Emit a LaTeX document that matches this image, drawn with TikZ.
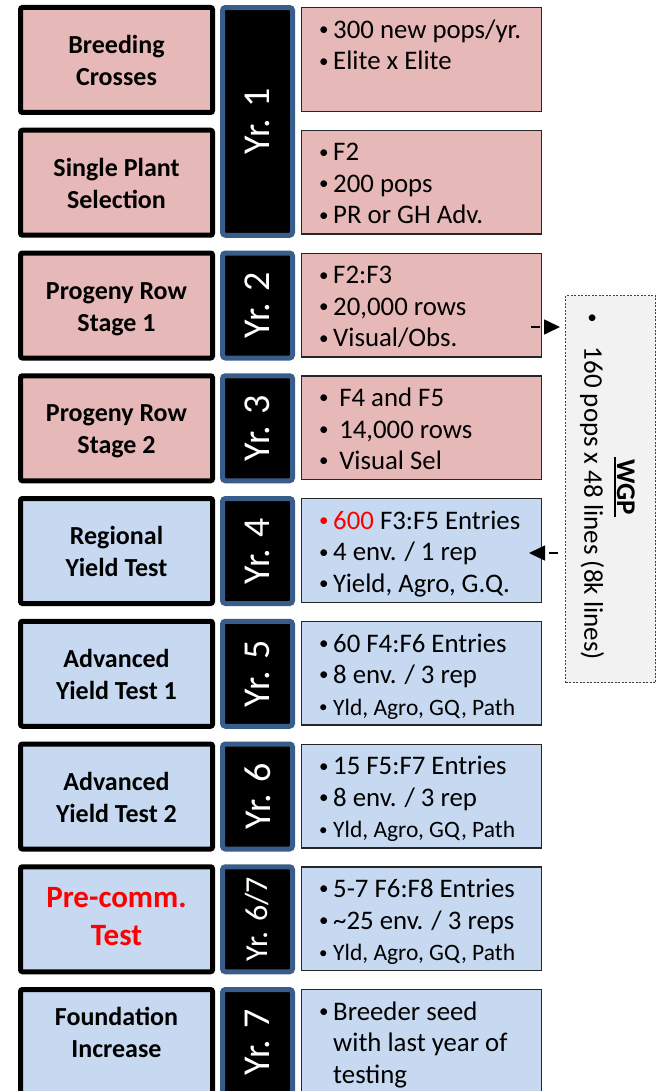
\documentclass[tikz,border=0pt]{standalone}
\usepackage{fontspec}
\setmainfont{Carlito}
\usetikzlibrary{arrows.meta}
\definecolor{pinkfill}{RGB}{230,184,183}
\definecolor{bluefill}{RGB}{198,217,241}
\definecolor{yrblue}{RGB}{56,93,138}
\definecolor{wgpfill}{RGB}{242,242,242}
\newcommand{\bul}{\makebox[17pt][l]{\hspace{3pt}\raisebox{2.6pt}{\fontsize{19}{19}\selectfont •}}}
\newcommand{\sbul}{\makebox[17pt][l]{\hspace{3pt}\raisebox{2.2pt}{\fontsize{17}{17}\selectfont •}}}
\newcommand{\hang}{\hspace*{17pt}}
\newcommand{\tstrut}{\rule{0pt}{28pt}}
\newcommand{\bstrut}{\rule[-9pt]{0pt}{9pt}}
\newcommand{\ttstrut}{\rule{0pt}{26pt}}
\newcommand{\bbstrut}{\rule[-12pt]{0pt}{12pt}}
\begin{document}
\begin{tikzpicture}[x=1pt,y=-1pt,
  stage/.style={draw=black, line width=5pt, rounded corners=2pt, minimum width=192pt, minimum height=105pt, align=center, font=\fontsize{26}{32}\selectfont\bfseries, inner sep=0pt},
  pinkstage/.style={stage, fill=pinkfill},
  bluestage/.style={stage, fill=bluefill},
  yrbox/.style={draw=yrblue, fill=black, line width=5pt, rounded corners=3pt, minimum width=70pt, minimum height=105pt, inner sep=0pt},
  yrlabel/.style={rotate=90, text=white, inner sep=0pt, font=\fontsize{38}{40}\selectfont},
  infobox/.style={draw=black!85, line width=1.3pt, minimum width=240pt, minimum height=103.7pt, inner sep=0pt},
  pinkinfo/.style={infobox, fill=pinkfill},
  blueinfo/.style={infobox, fill=bluefill},
  infotext/.style={anchor=north west, align=left, inner sep=0pt, font=\fontsize{26.8}{31.5}\selectfont},
  wgpbox/.style={draw=black!75, fill=wgpfill, line width=0.9pt, dash pattern=on 2pt off 1.5pt, minimum width=90pt, minimum height=387pt, inner sep=0pt},
  wgparrow/.style={line width=1.6pt, dash pattern=on 9pt off 5pt, -{Triangle[length=16pt,width=15pt]}}
]
\fill[white] (0,0) rectangle (658,1091);
\useasboundingbox (0,0) rectangle (658,1091);
\clip (0,0) rectangle (658,1091);

% ---- left stage boxes ----
\node[pinkstage] (l1) at (116.5,60) {\tstrut Breeding\\Crosses\bstrut};
\node[pinkstage] (l2) at (116.5,182.75) {\tstrut Single Plant\\Selection\bstrut};
\node[pinkstage] (l3) at (116.5,305.5) {\tstrut Progeny Row\\Stage 1\bstrut};
\node[pinkstage] (l4) at (116.5,428.25) {\tstrut Progeny Row\\Stage 2\bstrut};
\node[bluestage] (l5) at (116.5,551) {\tstrut Regional\\Yield Test\bstrut};
\node[bluestage] (l6) at (116.5,673.75) {\tstrut Advanced\\Yield Test 1\bstrut};
\node[bluestage] (l7) at (116.5,796.5) {\tstrut Advanced\\Yield Test 2\bstrut};
\node[bluestage, text=red, font=\fontsize{31}{38}\selectfont\bfseries] (l8) at (116.5,919.25) {\ttstrut Pre-comm.\\Test\bbstrut};
\node[bluestage] (l9) at (116.5,1042) {};
\node[align=center, font=\fontsize{26}{32}\selectfont\bfseries, inner sep=0pt] (l9t) at (116.5,1032) {Foundation\\Increase};

% ---- year boxes ----
\node[yrbox, minimum height=227.75pt] (y1) at (257.5,121.4) {};
\node[yrlabel] (y1t) at (y1.center) {Yr. 1};
\node[yrbox] (y2) at (257.5,305.5) {};
\node[yrlabel] (y2t) at (y2.center) {Yr. 2};
\node[yrbox] (y3) at (257.5,428.25) {};
\node[yrlabel] (y3t) at (y3.center) {Yr. 3};
\node[yrbox] (y4) at (257.5,551) {};
\node[yrlabel] (y4t) at (y4.center) {Yr. 4};
\node[yrbox] (y5) at (257.5,673.75) {};
\node[yrlabel] (y5t) at (y5.center) {Yr. 5};
\node[yrbox] (y6) at (257.5,796.5) {};
\node[yrlabel] (y6t) at (y6.center) {Yr. 6};
\node[yrbox] (y67) at (257.5,919.25) {};
\node[yrlabel, font=\fontsize{32}{34}\selectfont] (y67t) at (y67.center) {Yr. 6/7};
\node[yrbox] (y7) at (257.5,1042) {};
\node[yrlabel] (y7t) at (y7.center) {Yr. 7};

% ---- info boxes ----
\node[pinkinfo] (r1) at (421.5,59.5) {};
\node[infotext] (r1t) at (316,16) {\strut\bul 300 new pops/yr.\\\bul Elite x Elite};
\node[pinkinfo] (r2) at (421.5,182.25) {};
\node[infotext] (r2t) at (316,138.75) {\strut\bul F2\\\bul 200 pops\\\bul PR or GH Adv.};
\node[pinkinfo] (r3) at (421.5,305) {};
\node[infotext] (r3t) at (316,261.5) {\strut\bul F2:F3\\\bul 20,000 rows\\\bul Visual/Obs.};
\node[pinkinfo] (r4) at (421.5,427.75) {};
\node[infotext] (r4t) at (316,384.25) {\strut\bul\ F4 and F5\\\bul\ 14,000 rows\\\bul\ Visual Sel};
\node[blueinfo] (r5) at (421.5,550.5) {};
\node[infotext] (r5t) at (316,507) {\strut\textcolor{red}{\bul 600} F3:F5 Entries\\\bul 4 env. / 1 rep\\\bul Yield, Agro, G.Q.};
\node[blueinfo] (r6) at (421.5,673.25) {};
\node[infotext] (r6t) at (316,629.75) {\strut\bul 60 F4:F6 Entries\\\bul 8 env. / 3 rep\\{\fontsize{23.5}{31.5}\selectfont\sbul Yld, Agro, GQ, Path}};
\node[blueinfo] (r7) at (421.5,796) {};
\node[infotext] (r7t) at (316,752.5) {\strut\bul 15 F5:F7 Entries\\\bul 8 env. / 3 rep\\{\fontsize{23.5}{31.5}\selectfont\sbul Yld, Agro, GQ, Path}};
\node[blueinfo] (r8) at (421.5,918.75) {};
\node[infotext] (r8t) at (316,875.25) {\strut\bul 5-7 F6:F8 Entries\\\bul\textasciitilde 25 env. / 3 reps\\{\fontsize{23.5}{31.5}\selectfont\sbul Yld, Agro, GQ, Path}};
\node[blueinfo] (r9) at (421.5,1041.5) {};
\node[infotext] (r9t) at (316,998) {\strut\bul Breeder seed\\\hang with last year of\\\hang testing};

% ---- WGP ----
\node[wgpbox] (wgp) at (610.5,489) {};
\node[rotate=-90, inner sep=2pt, font=\fontsize{27}{30}\selectfont\bfseries] (wgpt) at (626,487) {WGP};
\draw[line width=2.6pt] (wgpt.south west) -- (wgpt.south east);
\node[rotate=-90, anchor=west, inner sep=0pt, font=\fontsize{27}{30}\selectfont] (wgpl) at (592,313) {\raisebox{2.6pt}{\fontsize{19}{19}\selectfont •}\hspace{24pt}160 pops x 48 lines (8k lines)};

% ---- arrows ----
\coordinate (a1s) at (531,327);
\coordinate (a1e) at (560,327);
\coordinate (a2s) at (558,553);
\coordinate (a2e) at (529,553);
\draw[wgparrow] (a1s) -- (a1e);
\draw[wgparrow] (a2s) -- (a2e);
\end{tikzpicture}
\end{document}
